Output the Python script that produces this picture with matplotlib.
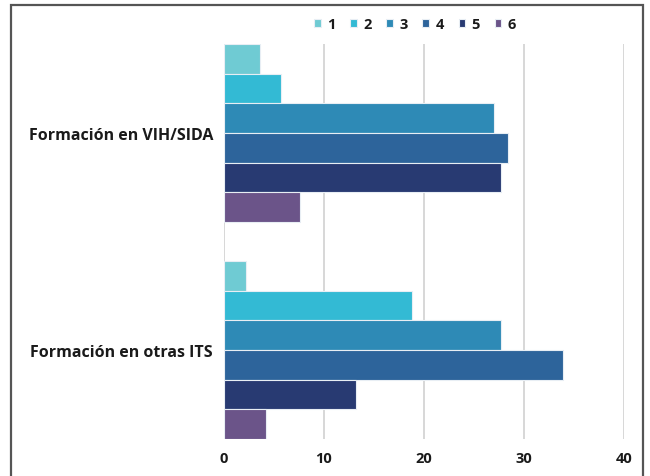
import matplotlib
matplotlib.use('Agg')
import matplotlib.pyplot as plt
from matplotlib.patches import Rectangle
import numpy as np

categories = ['Formación en VIH/SIDA', 'Formación en otras ITS']
series_names = ['1', '2', '3', '4', '5', '6']
values = [
    [3.6, 2.2],
    [5.7, 18.8],
    [27.0, 27.7],
    [28.4, 33.9],
    [27.7, 13.2],
    [7.6, 4.2],
]
colors = ['#6fcbd3', '#33bad4', '#2e8ab6', '#2d649b', '#283a72', '#6b5489']

plt.rcParams['font.family'] = ['Open Sans', 'DejaVu Sans']

fig = plt.figure(figsize=(6.5, 4.77), dpi=100)
fig.patch.set_facecolor('white')
# outer frame
fig.add_artist(Rectangle((11 / 650, -0.01), 632 / 650, 1 - 6 / 477 + 0.01,
                         transform=fig.transFigure, fill=False,
                         ec='#555555', lw=1.6))

ax = fig.add_axes([224 / 650, 1 - 440 / 477, 400 / 650, 395 / 477])

n = len(series_names)
h = 0.137
y = np.arange(len(categories))
for i, (name, vals, c) in enumerate(zip(series_names, values, colors)):
    off = (i - (n - 1) / 2) * h
    ax.barh(y + off, vals, height=h, color=c, edgecolor='#e8eef4',
            linewidth=0.8, label=name, zorder=3)

ax.set_xlim(0, 40)
ax.set_ylim(1.41, -0.41)
ax.set_xticks([0, 10, 20, 30, 40])
ax.set_yticks(y)
ax.set_yticklabels(categories, fontsize=11.5, fontweight='bold', color='#1a1a1a')
ax.tick_params(axis='x', labelsize=10.5, colors='#1a1a1a', length=0, pad=9)
ax.tick_params(axis='y', length=0, pad=8)
for lbl in ax.get_xticklabels():
    lbl.set_fontweight('bold')
ax.grid(axis='x', color='#d4d4d4', lw=1.3, zorder=0)
for s in ax.spines.values():
    s.set_visible(False)

leg = ax.legend(loc='lower center', bbox_to_anchor=(0.478, 1.0), ncol=6,
                frameon=False, fontsize=10.5, handlelength=0.45, handleheight=0.45,
                handletextpad=0.45, columnspacing=1.0)
for t in leg.get_texts():
    t.set_fontweight('bold')
    t.set_color('#1a1a1a')

fig.savefig('out.png', dpi=100, facecolor='white')
